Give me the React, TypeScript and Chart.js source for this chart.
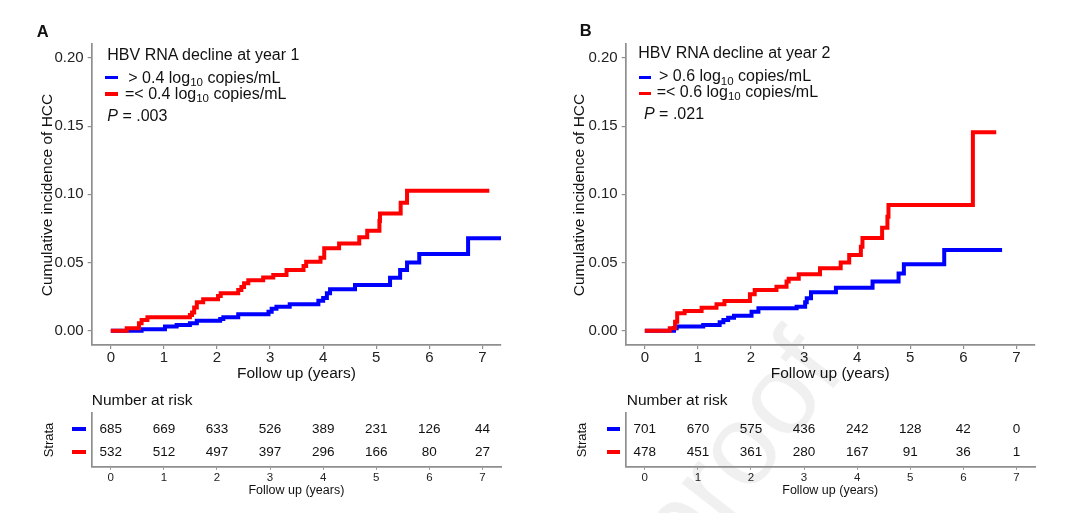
import React, { useEffect, useRef } from "react";
import { Chart, registerables } from "chart.js";

Chart.register(...registerables);

// ---------------- data ----------------
const YEARS = [0, 1, 2, 3, 4, 5, 6, 7];
const INCIDENCE_TICKS = [0, 0.05, 0.1, 0.15, 0.2];

// Panel A: HBV RNA decline at year 1
const A_HIGH_T = [0, 0.58, 1.02, 1.24, 1.49, 1.62, 2.06, 2.12, 2.40, 2.97, 3.03, 3.12, 3.37, 3.91, 4.00, 4.07, 4.13, 4.60, 5.26, 5.45, 5.58, 5.81, 6.73, 7.35];
const A_HIGH_Y = [0, 0.001, 0.003, 0.0042, 0.0054, 0.0073, 0.0085, 0.0098, 0.012, 0.0139, 0.016, 0.0176, 0.0194, 0.022, 0.024, 0.0274, 0.0303, 0.0335, 0.0389, 0.0445, 0.050, 0.0562, 0.0677, 0.0677];
const A_LOW_T = [0, 0.30, 0.53, 0.58, 0.69, 1.49, 1.53, 1.57, 1.62, 1.74, 2.02, 2.07, 2.40, 2.46, 2.51, 2.59, 2.87, 3.06, 3.31, 3.63, 3.68, 3.95, 4.02, 4.30, 4.68, 4.83, 5.06, 5.07, 5.46, 5.58, 7.13];
const A_LOW_Y = [0, 0.0018, 0.0054, 0.0078, 0.0098, 0.0115, 0.0133, 0.017, 0.0208, 0.023, 0.0255, 0.0274, 0.0298, 0.032, 0.0347, 0.037, 0.039, 0.0408, 0.0445, 0.0474, 0.0506, 0.0535, 0.0604, 0.064, 0.0685, 0.0733, 0.0804, 0.086, 0.0938, 0.1026, 0.1026];
const A_RISK_HIGH = [685, 669, 633, 526, 389, 231, 126, 44];
const A_RISK_LOW = [532, 512, 497, 397, 296, 166, 80, 27];

// Panel B: HBV RNA decline at year 2
const B_HIGH_T = [0, 0.55, 0.60, 1.10, 1.41, 1.48, 1.57, 1.68, 2.01, 2.14, 2.86, 3.02, 3.05, 3.13, 3.60, 4.29, 4.78, 4.88, 5.64, 6.73];
const B_HIGH_Y = [0, 0.0017, 0.003, 0.0042, 0.0061, 0.0078, 0.0095, 0.011, 0.0139, 0.0164, 0.0176, 0.0208, 0.0237, 0.0281, 0.0315, 0.036, 0.042, 0.0487, 0.0592, 0.0592];
const B_LOW_T = [0, 0.47, 0.57, 0.61, 0.75, 1.07, 1.35, 1.50, 1.98, 2.07, 2.48, 2.67, 2.71, 2.90, 3.30, 3.69, 3.85, 4.07, 4.10, 4.47, 4.57, 4.59, 6.18, 6.62];
const B_LOW_Y = [0, 0.0017, 0.0066, 0.0128, 0.0144, 0.0169, 0.0193, 0.0218, 0.0267, 0.0298, 0.0323, 0.036, 0.038, 0.0413, 0.0457, 0.050, 0.0555, 0.0616, 0.068, 0.0755, 0.0836, 0.0921, 0.1455, 0.1455];
const B_RISK_HIGH = [701, 670, 575, 436, 242, 128, 42, 0];
const B_RISK_LOW = [478, 451, 361, 280, 167, 91, 36, 1];

// ---------------- style / layout ----------------
const FONT = "'Liberation Sans', Arial, Helvetica, sans-serif";
const AXIS = "#8f8f8f";
const BLUE = "#0000ff";
const RED = "#ff0000";
const LINE_W = 4;
const X_MIN = -0.36;
const X_MAX = 7.35;
const Y_MIN = -0.0105;
const Y_MAX = 0.21;
const CW = 520;
const PLOT_H = 372;
const AREA_LEFT = 91.7;
const AREA_RIGHT = 501;
const AREA_TOP = 44.3;
const AREA_BOTTOM = 345;
const RISK_TOP = 380;
const RISK_H = 112;
const RISK_AREA_TOP = 413;
const RISK_AREA_BOTTOM = 466.7;

function toPoints(t: number[], y: number[]) {
  return t.map((v, i) => ({ x: v, y: y[i] }));
}

function KMPlot(props: { left: number; highT: number[]; highY: number[]; lowT: number[]; lowY: number[] }) {
  const ref = useRef<HTMLCanvasElement>(null);
  useEffect(() => {
    const chart = new Chart(ref.current as HTMLCanvasElement, {
      type: "line",
      data: {
        datasets: [
          {
            data: toPoints(props.lowT, props.lowY),
            borderColor: RED,
            borderWidth: LINE_W,
            stepped: "before",
            pointRadius: 0,
            fill: false,
          },
          {
            data: toPoints(props.highT, props.highY),
            borderColor: BLUE,
            borderWidth: LINE_W,
            stepped: "before",
            pointRadius: 0,
            fill: false,
          },
        ],
      } as any,
      options: {
        responsive: false,
        maintainAspectRatio: false,
        animation: false,
        layout: { padding: { left: 0, top: AREA_TOP, right: CW - AREA_RIGHT, bottom: 0 } },
        plugins: { legend: { display: false }, tooltip: { enabled: false } },
        scales: {
          x: {
            type: "linear",
            min: X_MIN,
            max: X_MAX,
            afterBuildTicks: (s: any) => {
              s.ticks = YEARS.map((v) => ({ value: v }));
            },
            afterFit: (s: any) => {
              s.height = PLOT_H - AREA_BOTTOM;
            },
            grid: { drawOnChartArea: false, drawTicks: true, tickLength: 4, color: AXIS, lineWidth: 1.2 },
            border: { display: true, color: AXIS, width: 1.7 },
            ticks: { font: { family: FONT, size: 15 }, color: "#222", padding: 0, maxRotation: 0, autoSkip: false },
          },
          y: {
            type: "linear",
            min: Y_MIN,
            max: Y_MAX,
            afterBuildTicks: (s: any) => {
              s.ticks = INCIDENCE_TICKS.map((v) => ({ value: v }));
            },
            afterFit: (s: any) => {
              s.width = AREA_LEFT;
            },
            grid: { drawOnChartArea: false, drawTicks: true, tickLength: 4, color: AXIS, lineWidth: 1.2 },
            border: { display: true, color: AXIS, width: 1.7 },
            ticks: {
              font: { family: FONT, size: 15 },
              color: "#222",
              padding: 4,
              callback: (v: any) => Number(v).toFixed(2),
            },
          },
        },
      } as any,
    });
    return () => chart.destroy();
  }, []);
  return (
    <canvas
      ref={ref}
      width={CW}
      height={PLOT_H}
      style={{ position: "absolute", left: props.left, top: 0, width: CW, height: PLOT_H }}
    />
  );
}

const riskTextPlugin = {
  id: "riskText",
  afterDatasetsDraw(chart: any, _args: any, opts: any) {
    const { ctx, scales } = chart;
    const xs = scales.x;
    const ys = scales.y;
    ctx.save();
    ctx.font = `13.5px ${FONT}`;
    ctx.fillStyle = "#111";
    ctx.textAlign = "center";
    ctx.textBaseline = "middle";
    (opts.rows as number[][]).forEach((row, r) => {
      row.forEach((n, i) => {
        ctx.fillText(String(n), xs.getPixelForValue(YEARS[i]), ys.getPixelForValue(r + 1));
      });
    });
    ctx.restore();
  },
};

function RiskTable(props: { left: number; high: number[]; low: number[] }) {
  const ref = useRef<HTMLCanvasElement>(null);
  useEffect(() => {
    const chart = new Chart(ref.current as HTMLCanvasElement, {
      type: "line",
      data: { datasets: [] },
      plugins: [riskTextPlugin as any],
      options: {
        responsive: false,
        maintainAspectRatio: false,
        animation: false,
        layout: { padding: { left: 0, top: RISK_AREA_TOP - RISK_TOP, right: CW - AREA_RIGHT, bottom: 0 } },
        plugins: {
          legend: { display: false },
          tooltip: { enabled: false },
          riskText: { rows: [props.high, props.low] },
        },
        scales: {
          x: {
            type: "linear",
            min: X_MIN,
            max: X_MAX,
            afterBuildTicks: (s: any) => {
              s.ticks = YEARS.map((v) => ({ value: v }));
            },
            afterFit: (s: any) => {
              s.height = RISK_TOP + RISK_H - RISK_AREA_BOTTOM;
            },
            grid: { drawOnChartArea: false, drawTicks: true, tickLength: 3, color: AXIS, lineWidth: 1 },
            border: { display: true, color: AXIS, width: 1.7 },
            ticks: { font: { family: FONT, size: 11.5 }, color: "#222", padding: 1, maxRotation: 0, autoSkip: false },
          },
          y: {
            type: "linear",
            min: 0.291,
            max: 2.638,
            reverse: true,
            afterFit: (s: any) => {
              s.width = AREA_LEFT;
            },
            grid: { display: false },
            border: { display: true, color: AXIS, width: 1.7 },
            ticks: { display: false },
          },
        },
      } as any,
    });
    return () => chart.destroy();
  }, []);
  return (
    <canvas
      ref={ref}
      width={CW}
      height={RISK_H}
      style={{ position: "absolute", left: props.left, top: RISK_TOP, width: CW, height: RISK_H }}
    />
  );
}

function Txt(props: { x: number; baseline: number; size: number; children: any; center?: boolean; bold?: boolean }) {
  return (
    <div
      style={{
        position: "absolute",
        left: props.x,
        top: props.baseline - 0.847 * props.size,
        fontSize: props.size,
        lineHeight: `${props.size}px`,
        fontWeight: props.bold ? "bold" : "normal",
        whiteSpace: "nowrap",
        color: "#111",
        transform: props.center ? "translateX(-50%)" : undefined,
      }}
    >
      {props.children}
    </div>
  );
}

function VTxt(props: { cx: number; cy: number; size: number; children: any }) {
  return (
    <div
      style={{
        position: "absolute",
        left: props.cx,
        top: props.cy,
        fontSize: props.size,
        lineHeight: `${props.size}px`,
        whiteSpace: "nowrap",
        color: "#111",
        transform: "translate(-50%, -50%) rotate(-90deg)",
      }}
    >
      {props.children}
    </div>
  );
}

function Key(props: { x: number; w: number; cy: number; color: string; h?: number }) {
  const h = props.h ?? 3.5;
  return (
    <div
      style={{
        position: "absolute",
        left: props.x,
        top: props.cy - h / 2,
        width: props.w,
        height: h,
        background: props.color,
      }}
    />
  );
}

function Log10(props: { value: string; op: string }) {
  return (
    <span>
      {props.op} {props.value} log
      <span style={{ fontSize: "0.72em", position: "relative", top: "0.3em" }}>10</span> copies/mL
    </span>
  );
}

export default function App() {
  useEffect(() => {
    document.body.style.margin = "0";
  }, []);
  return (
    <div
      style={{
        position: "fixed",
        left: 0,
        top: 0,
        width: 1065,
        height: 513,
        background: "#fff",
        overflow: "hidden",
        fontFamily: FONT,
      }}
    >
      <div
        style={{
          position: "absolute",
          left: 735,
          top: 450,
          fontSize: 115,
          lineHeight: "115px",
          color: "rgba(0,0,0,0.06)",
          transform: "translate(-50%, -50%) rotate(-52deg)",
          whiteSpace: "nowrap",
        }}
      >
        proof
      </div>

      <KMPlot left={0} highT={A_HIGH_T} highY={A_HIGH_Y} lowT={A_LOW_T} lowY={A_LOW_Y} />
      <KMPlot left={534} highT={B_HIGH_T} highY={B_HIGH_Y} lowT={B_LOW_T} lowY={B_LOW_Y} />
      <RiskTable left={0} high={A_RISK_HIGH} low={A_RISK_LOW} />
      <RiskTable left={534} high={B_RISK_HIGH} low={B_RISK_LOW} />

      {/* Panel A texts */}
      <Txt x={36.7} baseline={36.7} size={16.5} bold>A</Txt>
      <Txt x={107.3} baseline={60.7} size={16}>HBV RNA decline at year 1</Txt>
      <Key x={105.3} w={13} cy={77.7} color={BLUE} />
      <Txt x={128.3} baseline={83.3} size={16}><Log10 op=">" value="0.4" /></Txt>
      <Key x={105.3} w={13} cy={94} color={RED} />
      <Txt x={125} baseline={99.3} size={16}><Log10 op="=<" value="0.4" /></Txt>
      <Txt x={107.3} baseline={121.7} size={16}><i>P</i> = .003</Txt>
      <VTxt cx={46.7} cy={194.5} size={15.5}>Cumulative incidence of HCC</VTxt>
      <Txt x={296.4} baseline={378} size={15.5} center>Follow up (years)</Txt>
      <Txt x={91.7} baseline={405} size={15.5}>Number at risk</Txt>
      <Key x={72.3} w={13.4} cy={429} color={BLUE} h={4} />
      <Key x={72.3} w={13.4} cy={451.7} color={RED} h={4} />
      <VTxt cx={47.5} cy={440.3} size={13}>Strata</VTxt>
      <Txt x={296.4} baseline={495} size={12.5} center>Follow up (years)</Txt>

      {/* Panel B texts */}
      <Txt x={579.8} baseline={36.3} size={16.5} bold>B</Txt>
      <Txt x={638.3} baseline={58.3} size={16}>HBV RNA decline at year 2</Txt>
      <Key x={639} w={11.7} cy={77.3} color={BLUE} />
      <Txt x={659} baseline={81.7} size={16}><Log10 op=">" value="0.6" /></Txt>
      <Key x={639} w={11.7} cy={93.7} color={RED} />
      <Txt x={656.7} baseline={97.3} size={16}><Log10 op="=<" value="0.6" /></Txt>
      <Txt x={644} baseline={120} size={16}><i>P</i> = .021</Txt>
      <VTxt cx={579.2} cy={194.5} size={15.5}>Cumulative incidence of HCC</VTxt>
      <Txt x={830.2} baseline={378} size={15.5} center>Follow up (years)</Txt>
      <Txt x={626.7} baseline={405} size={15.5}>Number at risk</Txt>
      <Key x={607.3} w={12.7} cy={428.5} color={BLUE} h={4} />
      <Key x={607.3} w={12.7} cy={451.7} color={RED} h={4} />
      <VTxt cx={580.8} cy={440} size={13}>Strata</VTxt>
      <Txt x={830.2} baseline={495} size={12.5} center>Follow up (years)</Txt>
    </div>
  );
}
